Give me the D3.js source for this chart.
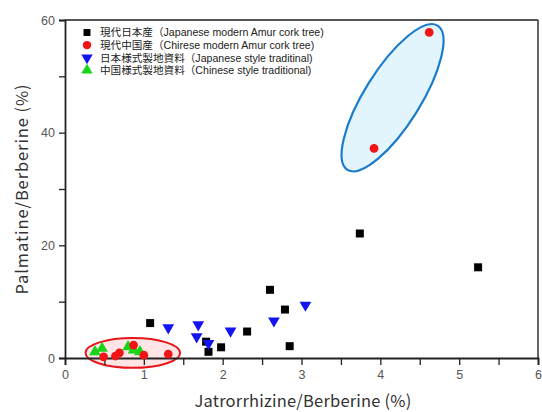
<!DOCTYPE html>
<html lang="ja">
<head>
<meta charset="utf-8">
<script src="https://cdn.jsdelivr.net/npm/d3@7/dist/d3.min.js"></script>
<style>
  html, body { margin: 0; padding: 0; background: #fff; }
  svg { display: block; }
</style>
</head>
<body>
<svg id="chart" width="542" height="412"></svg>
<script>
// ---- data ----
const jpModernX = [1.08, 1.79, 1.82, 1.98, 2.31, 2.60, 2.79, 2.85, 3.74, 5.24];
const jpModernY = [6.2, 2.9, 1.1, 1.9, 4.7, 12.1, 8.6, 2.1, 22.1, 16.1];
const cnModernX = [4.62, 3.92, 0.49, 0.64, 0.69, 0.87, 1.00, 1.31];
const cnModernY = [57.8, 37.2, 0.2, 0.35, 0.9, 2.3, 0.5, 0.7];
const jpTradX = [1.31, 1.69, 1.67, 1.82, 2.10, 2.65, 3.05];
const jpTradY = [5.4, 5.9, 3.8, 2.6, 4.8, 6.6, 9.4];
const cnTradX = [0.38, 0.47, 0.80, 0.87, 0.95];
const cnTradY = [1.1, 1.7, 2.0, 1.4, 1.1];

const legendLabels = [
  "現代日本産（Japanese modern Amur cork tree)",
  "現代中国産（Chirese modern Amur cork tree)",
  "日本様式製地資料（Japanese style traditinal)",
  "中国様式製地資料（Chinese style traditional)"
];
const xTicks = [0, 1, 2, 3, 4, 5, 6];
const yTicks = [0, 20, 40, 60];
const xLabel = "Jatrorrhizine/Berberine (%)";
const yLabel = "Palmatine/Berberine (%)";

// ---- layout ----
const svg = d3.select("#chart");
const L = 65, R = 538, T = 20, B = 358;
const x = d3.scaleLinear().domain([0, 6]).range([L, R]);
const y = d3.scaleLinear().domain([0, 60]).range([B, T]);

// highlight ellipses (drawn under points)
svg.append("ellipse")
  .attr("cx", x(0.86)).attr("cy", y(0.9))
  .attr("rx", x(0.6) - x(0)).attr("ry", y(0) - y(2.65))
  .attr("fill", "rgba(255,80,80,0.15)").attr("stroke", "#e8161b").attr("stroke-width", 2);

svg.append("ellipse")
  .attr("transform", `translate(${x(4.155)},${y(46.2)}) rotate(-58)`)
  .attr("rx", 85).attr("ry", 28)
  .attr("fill", "#e2f5fc").attr("stroke", "#1b7ccc").attr("stroke-width", 2.2);

// frame
svg.append("line").attr("x1", L).attr("x2", R).attr("y1", T).attr("y2", T)
  .attr("stroke", "#555").attr("stroke-width", 2);
svg.append("line").attr("x1", R).attr("x2", R).attr("y1", T).attr("y2", B)
  .attr("stroke", "#333").attr("stroke-width", 1.5);

// axes
const xAxis = d3.axisBottom(x).tickValues(d3.range(0, 6.01, 0.5))
  .tickSize(7).tickFormat(d => (xTicks.includes(d) ? d : ""));
const gx = svg.append("g").attr("transform", `translate(0,${B})`).call(xAxis);
gx.select(".domain").attr("stroke", "#222").attr("stroke-width", 1.8);
gx.selectAll(".tick line").attr("stroke", "#222").attr("stroke-width", 1.3);
gx.selectAll(".tick text").attr("fill", "#555").attr("font-size", 12.5)
  .attr("font-family", "Liberation Sans, Arial, sans-serif").attr("dy", "0.9em");

const yAxis = d3.axisLeft(y).tickValues(d3.range(0, 60.01, 10))
  .tickSize(6).tickFormat(d => (yTicks.includes(d) ? d : ""));
const gy = svg.append("g").attr("transform", `translate(${L},0)`).call(yAxis);
gy.select(".domain").attr("stroke", "#222").attr("stroke-width", 1.8);
gy.selectAll(".tick line").attr("stroke", "#222").attr("stroke-width", 1.3);
gy.selectAll(".tick text").attr("fill", "#555").attr("font-size", 12.5)
  .attr("font-family", "Liberation Sans, Arial, sans-serif").attr("x", -10);

// axis titles
svg.append("text").attr("x", 303).attr("y", 407)
  .attr("text-anchor", "middle").attr("font-size", 16.5).attr("fill", "#333")
  .attr("letter-spacing", 0.2)
  .attr("font-family", "Noto Sans CJK JP, Noto Sans, sans-serif").text(xLabel);
svg.append("text").attr("transform", `translate(28,${(T + B) / 2}) rotate(-90)`)
  .attr("text-anchor", "middle").attr("font-size", 16.5).attr("fill", "#333")
  .attr("letter-spacing", 0.9)
  .attr("font-family", "Noto Sans CJK JP, Noto Sans, sans-serif").text(yLabel);

// markers
const sq = d3.symbol().type(d3.symbolSquare).size(64);
const circ = d3.symbol().type(d3.symbolCircle).size(60);
const tri = d3.symbol().type(d3.symbolTriangle).size(60);

function plot(xs, ys, path, color, rot) {
  svg.append("g").selectAll("path").data(xs.map((v, i) => [v, ys[i]])).join("path")
    .attr("d", path)
    .attr("transform", d => `translate(${x(d[0])},${y(d[1])})${rot ? " rotate(" + rot + ")" : ""}`)
    .attr("fill", color);
}
plot(cnTradX, cnTradY, tri, "#16d416", 0);
plot(cnModernX, cnModernY, circ, "#f01414", 0);
plot(jpModernX, jpModernY, sq, "#000", 0);
plot(jpTradX, jpTradY, tri, "#1414f0", 180);

// legend
const legendMarkers = [[sq, "#000", 0], [circ, "#f01414", 0], [tri, "#1414f0", 180], [tri, "#16d416", 0]];
const lg = svg.append("g");
legendLabels.forEach((t, i) => {
  const yy = 32.5 + i * 12.6;
  const m = legendMarkers[i];
  lg.append("path").attr("d", m[0].size(i === 0 ? 48 : 56))
    .attr("transform", `translate(87,${yy})${m[2] ? " rotate(180)" : ""}`)
    .attr("fill", m[1]);
  lg.append("text").attr("x", 100).attr("y", yy + 3.8)
    .attr("font-size", 10.6).attr("fill", "#222")
    .attr("font-family", "Liberation Sans, 'Noto Sans CJK JP', sans-serif").text(t);
});
</script>
</body>
</html>
